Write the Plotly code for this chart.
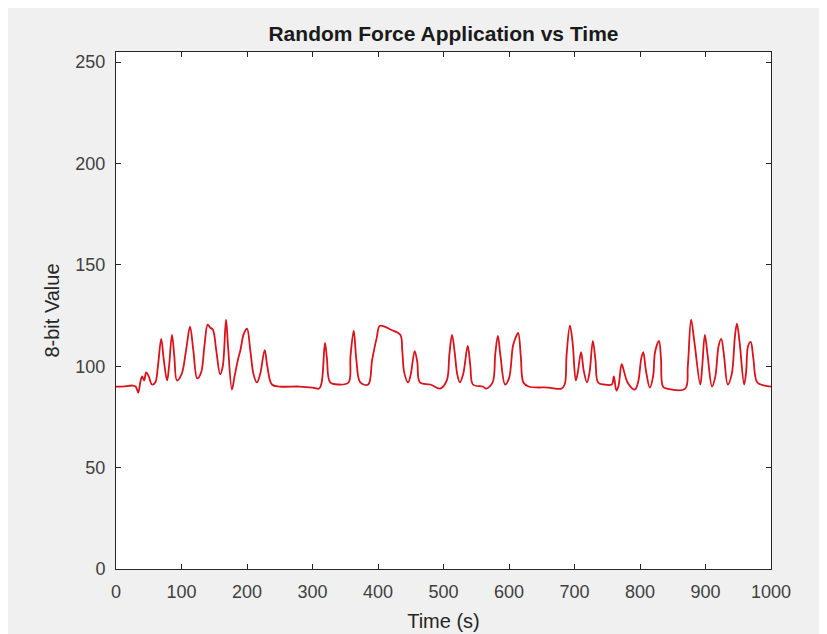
import plotly.graph_objects as go

# Time (s) and 8-bit sensor values
time_s = [0, 10, 25, 30, 34, 37, 40, 43, 46, 50, 55, 60, 64, 69, 73, 78, 81, 85.5, 89, 93,
          100, 107, 113, 118, 124, 130, 135, 140, 144, 148, 153, 159, 163, 168, 171, 177,
          181, 186, 190, 195, 200, 205, 210, 215, 220, 227, 231, 238, 250, 280, 300, 310,
          314, 319, 322, 327, 340, 355, 358, 363, 367, 373, 385, 391, 398, 403, 420, 434,
          437, 440, 446, 450, 456, 460, 464, 480, 495, 505, 509, 513, 517, 521, 525, 530,
          537, 541, 545, 560, 565, 575, 579, 583, 587, 594, 600, 606, 610, 614, 618, 622,
          630, 660, 680, 685, 688, 693, 697, 702, 705, 710, 714, 719, 723, 728, 732, 736,
          745, 757, 760, 764, 767, 772, 776, 781, 792, 797, 802, 805, 809, 815, 820, 823,
          829, 832, 835, 841, 869, 873, 878, 883, 892, 895, 899, 903, 910, 915, 920, 924,
          928, 934, 940, 945, 948, 952, 959, 962, 965, 969, 973, 979, 990, 1000]
value_8bit = [90, 90, 90.5, 90, 87, 92, 95, 93, 97, 95, 91, 92, 100, 113.5, 103, 93, 100, 115.5, 105, 93,
              96, 108, 119.5, 108, 94, 97, 110, 120.5, 119, 118, 108, 96, 100, 123, 110, 88.5,
              95, 103, 108, 116, 118.5, 108, 96, 92, 96, 108, 100, 91, 90, 90, 89.5, 89,
              92, 111.5, 104, 92, 91, 92, 105, 117.5, 103, 92, 91, 103, 114, 120, 118, 115.5,
              108, 97, 92, 96, 107.5, 102, 92, 91, 89, 93, 106, 115.5, 107, 96, 92, 96,
              110, 100, 91, 90, 89, 92, 106, 115, 105, 91, 94, 110, 114, 116.5, 105, 92,
              90, 89.5, 89, 91, 106, 120, 112, 93, 97, 107, 98, 92, 97, 112.5, 103, 92,
              91, 91, 95, 88, 90, 101, 97, 92, 88.5, 92, 104, 107, 98, 89.5, 95, 107,
              112.5, 104, 90, 89, 89, 100, 123, 112, 91, 100, 115.5, 106, 90, 95, 110, 113.5,
              106, 91, 96, 115, 121, 112, 91, 97, 110, 112, 104, 92, 90.5, 90]

x_ticks = list(range(0, 1001, 100))
y_ticks = list(range(0, 251, 50))

axis_col = "#262626"
font_fam = "Liberation Sans, Arial, sans-serif"

fig = go.Figure()
fig.add_trace(go.Scatter(
    x=time_s, y=value_8bit, mode="lines",
    line=dict(color="#d9121b", width=1.8, shape="spline", smoothing=1.0),
    showlegend=False,
))

common = dict(
    showline=True, linecolor=axis_col, linewidth=1, mirror="ticks",
    ticks="inside", ticklen=5, tickcolor=axis_col, tickwidth=1,
    showgrid=False, zeroline=False,
    tickfont=dict(family=font_fam, size=18, color="#404040"),
)

fig.update_layout(
    width=827, height=634,
    margin=dict(l=108, r=64, t=44, b=73),
    paper_bgcolor="#f0f0f0", plot_bgcolor="white",
    font=dict(family=font_fam, color="#262626"),
    title=dict(text="<b>Random Force Application vs Time</b>",
               x=0.5, xref="paper", xanchor="center",
               y=1 - 26 / 634, yref="container", yanchor="middle",
               font=dict(family=font_fam, size=21, color="#1a1a1a")),
    xaxis=dict(range=[0, 1000], tickvals=x_ticks, ticklabelstandoff=6,
               title=dict(text="Time (s)", standoff=13,
                          font=dict(family=font_fam, size=20, color="#262626")),
               **common),
    yaxis=dict(range=[0, 255], tickvals=y_ticks, ticklabelstandoff=6,
               title=dict(text="8-bit Value", standoff=10,
                          font=dict(family=font_fam, size=20, color="#262626")),
               **common),
)

fig.write_html("out.html")
